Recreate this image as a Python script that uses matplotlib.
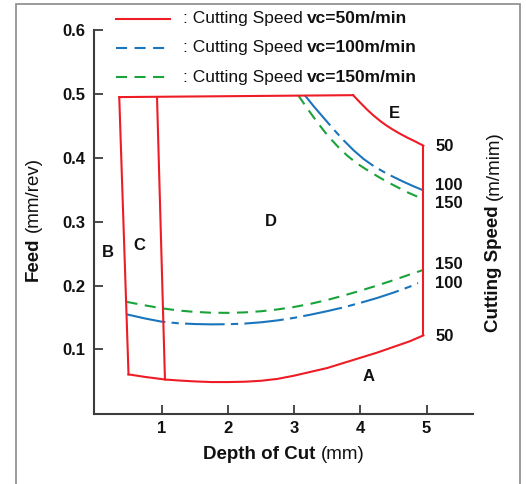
import matplotlib
matplotlib.use('Agg')
import matplotlib.pyplot as plt
from matplotlib.lines import Line2D
from matplotlib.patches import Rectangle

plt.rcParams['font.family'] = ['Liberation Sans', 'DejaVu Sans']

# ---------------- data ----------------
xticks = [1, 2, 3, 4, 5]
yticks = [0.1, 0.2, 0.3, 0.4, 0.5, 0.6]

# red (vc=50) boundary pieces
red_top_x = [0.36, 3.89]
red_top_y = [0.495, 0.498]
red_E_x = [3.89, 4.00, 4.10, 4.20, 4.30, 4.40, 4.50, 4.60, 4.70, 4.80, 4.95]
red_E_y = [0.498, 0.486, 0.4755, 0.466, 0.4575, 0.450, 0.4435, 0.4375, 0.432, 0.427, 0.419]
red_right_x = [4.95, 4.95]
red_right_y = [0.419, 0.122]
red_A_x = [0.50, 0.75, 1.05, 1.25, 1.50, 1.75, 2.00, 2.25, 2.50, 2.75, 3.00, 3.25,
           3.50, 3.75, 4.00, 4.25, 4.50, 4.75, 4.95]
red_A_y = [0.061, 0.057, 0.053, 0.0515, 0.050, 0.049, 0.049, 0.0495, 0.051, 0.054, 0.059,
           0.065, 0.071, 0.079, 0.087, 0.095, 0.104, 0.113, 0.122]
red_left_x = [0.50, 0.36]
red_left_y = [0.061, 0.495]
red_C_x = [1.05, 0.93]
red_C_y = [0.053, 0.495]

# blue (vc=100)
blue_low_x = [0.47, 0.75, 1.00, 1.25, 1.50, 1.75, 2.00, 2.25, 2.50, 2.75, 3.00, 3.25,
              3.50, 3.75, 4.00, 4.25, 4.50, 4.75, 4.87]
blue_low_y = [0.155, 0.1485, 0.1435, 0.141, 0.1398, 0.1393, 0.1395, 0.1405, 0.1425, 0.1455,
              0.1495, 0.1545, 0.160, 0.166, 0.173, 0.1805, 0.189, 0.1985, 0.204]
blue_up_x = [3.16, 3.30, 3.45, 3.60, 3.75, 3.90, 4.05, 4.20, 4.35, 4.50, 4.65, 4.80, 4.95]
blue_up_y = [0.498, 0.480, 0.462, 0.444, 0.427, 0.4115, 0.398, 0.387, 0.378, 0.370, 0.3625,
             0.3555, 0.349]

# green (vc=150)
green_low_x = [0.47, 0.75, 1.00, 1.25, 1.50, 1.75, 2.00, 2.25, 2.50, 2.75, 3.00, 3.25,
               3.50, 3.75, 4.00, 4.25, 4.50, 4.75, 4.95]
green_low_y = [0.1745, 0.169, 0.1645, 0.161, 0.1588, 0.1575, 0.1573, 0.158, 0.1598, 0.1627,
               0.1665, 0.1715, 0.1775, 0.1845, 0.192, 0.200, 0.2085, 0.2175, 0.2245]
green_up_x = [3.06, 3.20, 3.35, 3.50, 3.65, 3.80, 3.95, 4.10, 4.25, 4.40, 4.55, 4.70, 4.95]
green_up_y = [0.498, 0.477, 0.4555, 0.4355, 0.4185, 0.4035, 0.391, 0.381, 0.3715, 0.3625,
              0.3545, 0.3465, 0.335]

region_labels = ['A', 'B', 'C', 'D', 'E']
region_x = [4.13, 0.19, 0.67, 2.65, 4.52]
region_y = [0.057, 0.251, 0.263, 0.301, 0.470]

speed_labels = ['50', '100', '150', '150', '100', '50']
speed_y = [0.418, 0.356, 0.329, 0.233, 0.204, 0.121]

legend_speeds = ['vc=50m/min', 'vc=100m/min', 'vc=150m/min']

# ---------------- style ----------------
RED = '#ee1c25'
BLUE = '#1b75bc'
GREEN = '#1aa33a'
AX = '#3c3c3c'

W, H = 526, 484
fig = plt.figure(figsize=(W / 100, H / 100), dpi=100)


def fx(px):
    return px / W


def fy(py):
    return 1 - py / H


ax = fig.add_axes([fx(94), fy(414), fx(472.7) - fx(94), fy(30) - fy(414)])
ax.set_xlim(-0.021, 5.695)
ax.set_ylim(-0.001, 0.6)
for s in ['top', 'right']:
    ax.spines[s].set_visible(False)
for s in ['left', 'bottom']:
    ax.spines[s].set_color(AX)
    ax.spines[s].set_linewidth(1.5)
ax.set_xticks(xticks)
ax.set_yticks(yticks)
ax.set_xticklabels([str(v) for v in xticks], fontweight='bold', fontsize=12)
ax.set_yticklabels([f'{v:.1f}' for v in yticks], fontweight='bold', fontsize=12)
ax.tick_params(direction='in', length=6.5, width=1.3, color=AX, labelcolor='#111111')
ax.tick_params(axis='y', pad=6.5)
ax.tick_params(axis='x', pad=5)

lw = 1.5
blue_dash = (0, (19, 3, 3.5, 3))
green_dash = (0, (5.3, 3.6))

ax.plot(green_low_x, green_low_y, color=GREEN, lw=lw, linestyle=green_dash)
ax.plot(green_up_x, green_up_y, color=GREEN, lw=lw, linestyle=green_dash)
ax.plot(blue_low_x, blue_low_y, color=BLUE, lw=lw, linestyle=blue_dash)
ax.plot(blue_up_x, blue_up_y, color=BLUE, lw=lw, linestyle=blue_dash)
for xs, ys in [(red_top_x, red_top_y), (red_E_x, red_E_y), (red_right_x, red_right_y),
               (red_A_x, red_A_y), (red_left_x, red_left_y), (red_C_x, red_C_y)]:
    ax.plot(xs, ys, color=RED, lw=lw, solid_joinstyle='round')

for lab, x, y in zip(region_labels, region_x, region_y):
    ax.text(x, y, lab, ha='center', va='center', fontweight='bold', fontsize=12, color='#111111')

for lab, y in zip(speed_labels, speed_y):
    ax.text(5.13, y, lab, ha='left', va='center', fontweight='bold', fontsize=12,
            color='#111111', clip_on=False)

# ---------------- legend (manual) ----------------
line_rows = [19, 47.7, 76.7]
base_rows = [23.3, 52.3, 81.7]
styles = [dict(color=RED, linestyle='-'),
          dict(color=BLUE, linestyle=(0, (5.3, 3.6))),
          dict(color=GREEN, linestyle=(0, (5.3, 3.6)))]
for lr, br, st, sp in zip(line_rows, base_rows, styles, legend_speeds):
    fig.add_artist(Line2D([fx(116), fx(170)], [fy(lr), fy(lr)], transform=fig.transFigure,
                          lw=lw, **st))
    t = fig.text(fx(182.7), fy(br), ': Cutting Speed', ha='left', va='baseline',
                 fontsize=12.5, color='#111111')
    ax.annotate(sp, xy=(1, 0), xycoords=t, xytext=(3.5, 0), textcoords='offset points',
                ha='left', va='bottom', fontsize=12.5, fontweight='bold', color='#111111')

# ---------------- axis labels ----------------
t = fig.text(fx(203), fy(459), 'Depth of Cut', ha='left', va='baseline',
             fontsize=13.5, fontweight='bold', color='#111111')
ax.annotate('(mm)', xy=(1, 0), xycoords=t, xytext=(3.8, 0), textcoords='offset points',
            ha='left', va='bottom', fontsize=13.5, color='#111111')

t = fig.text(fx(33.5), fy(281), 'Feed', rotation=90, ha='center', va='bottom',
             fontsize=13.5, fontweight='bold', color='#111111')
ax.annotate('(mm/rev)', xy=(0.5, 1), xycoords=t, xytext=(0, 3.8), textcoords='offset points',
            rotation=90, ha='center', va='bottom', fontsize=13.5, color='#111111')

t = fig.text(fx(494), fy(331.5), 'Cutting Speed', rotation=90, ha='center', va='bottom',
             fontsize=13.5, fontweight='bold', color='#111111')
ax.annotate('(m/mim)', xy=(0.5, 1), xycoords=t, xytext=(0, 3.8), textcoords='offset points',
            rotation=90, ha='center', va='bottom', fontsize=13.5, color='#111111')

# outer frame
fig.add_artist(Rectangle((fx(16), fy(600)), fx(520) - fx(16), fy(4) - fy(600),
                         transform=fig.transFigure, fill=False, ec='#8a8a8a', lw=1.2))

fig.savefig('out.png', dpi=100)
